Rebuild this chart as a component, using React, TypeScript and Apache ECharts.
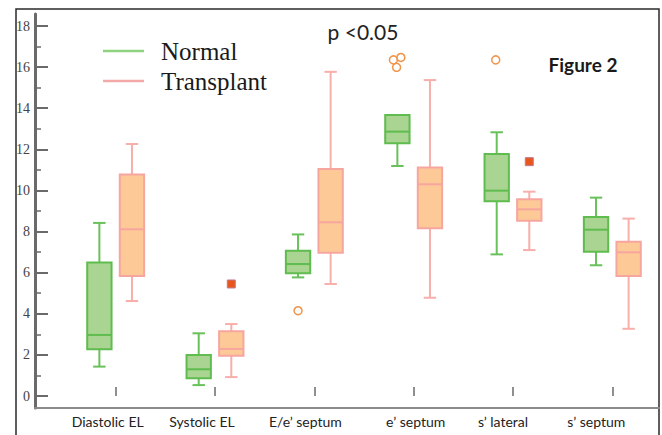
import { useEffect, useRef } from "react";
import * as echarts from "echarts";

// Echocardiographic indices, Normal vs Transplant
const CATEGORIES = ["Diastolic EL", "Systolic EL", "E/e’ septum", "e’ septum", "s’ lateral", "s’ septum"];

// Box statistics per category: [min, Q1, median, Q3, max]
const NORMAL_STATS = [
  [1.43, 2.27, 2.97, 6.5, 8.42],
  [0.53, 0.86, 1.3, 1.99, 3.05],
  [5.77, 5.97, 6.42, 7.07, 7.86],
  [11.19, 12.29, 12.86, 13.67, 13.67],
  [6.89, 9.48, 9.99, 11.77, 12.83],
  [6.36, 7.02, 8.09, 8.71, 9.65],
];
const TRANSPLANT_STATS = [
  [4.62, 5.84, 8.11, 10.78, 12.26],
  [0.92, 1.96, 2.29, 3.15, 3.5],
  [5.45, 6.97, 8.45, 11.04, 15.77],
  [4.78, 8.16, 10.3, 11.12, 15.37],
  [7.1, 8.53, 9.08, 9.57, 9.94],
  [3.27, 5.84, 6.99, 7.51, 8.63],
];

// Outliers: [category index, value, horizontal spread (fraction of a category band)]
const NORMAL_OUTLIERS = [
  [2, 4.15, 0],
  [3, 16.35, -0.04],
  [3, 16.47, 0.035],
  [3, 15.99, -0.008],
  [4, 16.35, -0.01],
];
const TRANSPLANT_OUTLIERS = [
  [1, 5.45, 0],
  [4, 11.4, 0],
];

const Y_MIN = 0;
const Y_MAX = 18;
const Y_STEP = 2;

// Layout of the paired boxes inside one category band (fractions of the band)
const PAIR_OFFSET = 0.164;
const BOX_WIDTH = 0.245;
const CAP_WIDTH = 0.125;

// Horizontal nudge of each category label, in px
const LABEL_NUDGE = [-8, -13, -9, 2, -10, -16];

const GREEN = { fill: "#aad491", stroke: "#5fbc4f", whisker: "#68c15a", legend: "#8fd27f" };
const PINK = { fill: "#fdca97", stroke: "#f6a59f", whisker: "#f8aeaa", legend: "#f3a9a8" };

const AXIS_GREY = "#6a6a6a";

function boxRenderer(side: number, c: typeof GREEN) {
  return (_params: any, api: any) => {
    const idx = api.value(0);
    const band = api.size([1, 0])[0];
    const cx = api.coord([idx, 0])[0] + side * band * PAIR_OFFSET;
    const half = (band * BOX_WIDTH) / 2;
    const cap = (band * CAP_WIDTH) / 2;
    const y = (d: number) => api.coord([idx, api.value(d)])[1];
    const yMin = y(1);
    const yQ1 = y(2);
    const yMed = y(3);
    const yQ3 = y(4);
    const yMax = y(5);
    const wStyle = { stroke: c.whisker, lineWidth: 2 };
    return {
      type: "group",
      children: [
        { type: "line", shape: { x1: cx, y1: yQ3, x2: cx, y2: yMax }, style: wStyle },
        { type: "line", shape: { x1: cx, y1: yQ1, x2: cx, y2: yMin }, style: wStyle },
        { type: "line", shape: { x1: cx - cap, y1: yMax, x2: cx + cap, y2: yMax }, style: wStyle },
        { type: "line", shape: { x1: cx - cap, y1: yMin, x2: cx + cap, y2: yMin }, style: wStyle },
        {
          type: "rect",
          shape: { x: cx - half, y: yQ3, width: half * 2, height: yQ1 - yQ3 },
          style: { fill: c.fill, stroke: c.stroke, lineWidth: 2 },
        },
        {
          type: "line",
          shape: { x1: cx - half, y1: yMed, x2: cx + half, y2: yMed },
          style: { stroke: c.stroke, lineWidth: 2 },
        },
      ],
    };
  };
}

function outlierRenderer(side: number, shape: "circle" | "square") {
  return (_params: any, api: any) => {
    const idx = api.value(0);
    const band = api.size([1, 0])[0];
    const [px, py] = api.coord([idx, api.value(1)]);
    const cx = px + side * band * PAIR_OFFSET + api.value(2) * band;
    if (shape === "circle") {
      return {
        type: "circle",
        shape: { cx, cy: py, r: 4 },
        style: { fill: "rgba(255,255,255,0)", stroke: "#f0944a", lineWidth: 1.5 },
      };
    }
    return {
      type: "rect",
      shape: { x: cx - 4, y: py - 4, width: 8, height: 8 },
      style: { fill: "#e8561c", stroke: "#c07a95", lineWidth: 1 },
    };
  };
}

function buildOption() {
  const rich: Record<string, any> = {};
  LABEL_NUDGE.forEach((n, i) => {
    rich["n" + i] = {
      fontFamily: "Lato",
      fontSize: 14,
      color: "#222",
      padding: n < 0 ? [0, -2 * n, 0, 0] : [0, 0, 0, 2 * n],
    };
  });

  return {
    animation: false,
    backgroundColor: "#ffffff",
    grid: [
      { left: 35, right: 3, top: 14, bottom: 27 },
      { left: 66, width: 612, top: 26, bottom: 39 },
    ],
    legend: {
      orient: "vertical",
      left: 103,
      top: 36,
      padding: 0,
      itemGap: 0,
      itemWidth: 41,
      itemHeight: 2.5,
      icon: "rect",
      textStyle: {
        fontFamily: "Liberation Serif",
        fontSize: 25,
        color: "#1a1a1a",
        lineHeight: 30,
        padding: [0, 0, 0, 12],
      },
      data: [
        { name: "Normal", itemStyle: { color: GREEN.legend, borderWidth: 0 } },
        { name: "Transplant", itemStyle: { color: PINK.legend, borderWidth: 0 } },
      ],
    },
    xAxis: [
      {
        gridIndex: 0,
        type: "value",
        min: 0,
        max: 1,
        axisLine: { show: true, onZero: false, lineStyle: { color: "#8a8a8a", width: 2 } },
        axisTick: { show: false },
        axisLabel: { show: false },
        splitLine: { show: false },
      },
      {
        gridIndex: 1,
        type: "category",
        data: CATEGORIES,
        offset: 12,
        axisLine: { show: false },
        axisTick: { show: true, inside: true, alignWithLabel: true, length: 9, lineStyle: { color: AXIS_GREY, width: 1.5 } },
        axisLabel: {
          margin: 6,
          interval: 0,
          formatter: (v: string, i: number) => `{n${i}|${v}}`,
          rich,
        },
        splitLine: { show: false },
      },
    ],
    yAxis: [
      {
        gridIndex: 0,
        type: "value",
        min: 0,
        max: 1,
        axisLine: { show: true, onZero: false, lineStyle: { color: AXIS_GREY, width: 3 } },
        axisTick: { show: false },
        axisLabel: { show: false },
        splitLine: { show: false },
      },
      {
        gridIndex: 1,
        type: "value",
        min: Y_MIN,
        max: Y_MAX,
        interval: Y_STEP,
        offset: 31,
        axisLine: { show: false },
        axisTick: { show: true, inside: true, length: 13, lineStyle: { color: AXIS_GREY, width: 2 } },
        minorTick: { show: true, splitNumber: 2, length: 6, lineStyle: { color: AXIS_GREY, width: 1.5 } },
        axisLabel: { margin: 5, fontFamily: "Liberation Serif", fontSize: 14, color: "#444" },
        splitLine: { show: false },
        minorSplitLine: { show: false },
      },
    ],
    graphic: [
      {
        type: "rect",
        shape: { x: 16, y: 9, width: 643, height: 440 },
        style: { fill: "none", stroke: "#2a2a2a", lineWidth: 1.5 },
        silent: true,
      },
      {
        type: "text",
        x: 363,
        y: 31,
        style: {
          text: "p <0.05",
          fontFamily: "Lato",
          fontSize: 21,
          fill: "#222",
          textAlign: "center",
          textVerticalAlign: "middle",
        },
      },
      {
        type: "text",
        x: 583,
        y: 64,
        style: {
          text: "Figure 2",
          fontFamily: "Lato",
          fontWeight: "bold",
          fontSize: 19,
          fill: "#1a1a1a",
          textAlign: "center",
          textVerticalAlign: "middle",
        },
      },
    ],
    series: [
      {
        name: "Normal",
        type: "custom",
        xAxisIndex: 1,
        yAxisIndex: 1,
        renderItem: boxRenderer(-1, GREEN),
        itemStyle: { color: GREEN.legend },
        encode: { x: 0, y: [1, 2, 3, 4, 5] },
        data: NORMAL_STATS.map((s, i) => [i, ...s]),
        z: 2,
      },
      {
        name: "Transplant",
        type: "custom",
        xAxisIndex: 1,
        yAxisIndex: 1,
        renderItem: boxRenderer(1, PINK),
        itemStyle: { color: PINK.legend },
        encode: { x: 0, y: [1, 2, 3, 4, 5] },
        data: TRANSPLANT_STATS.map((s, i) => [i, ...s]),
        z: 2,
      },
      {
        name: "Normal",
        type: "custom",
        xAxisIndex: 1,
        yAxisIndex: 1,
        renderItem: outlierRenderer(-1, "circle"),
        itemStyle: { color: GREEN.legend },
        encode: { x: 0, y: 1 },
        data: NORMAL_OUTLIERS,
        z: 3,
      },
      {
        name: "Transplant",
        type: "custom",
        xAxisIndex: 1,
        yAxisIndex: 1,
        renderItem: outlierRenderer(1, "square"),
        itemStyle: { color: PINK.legend },
        encode: { x: 0, y: 1 },
        data: TRANSPLANT_OUTLIERS,
        z: 3,
      },
    ],
  };
}

export default function App() {
  const ref = useRef<HTMLDivElement>(null);

  useEffect(() => {
    if (!ref.current) return;
    const chart = echarts.init(ref.current, undefined, { renderer: "svg" });
    chart.setOption(buildOption() as any);
    return () => chart.dispose();
  }, []);

  return (
    <div
      ref={ref}
      style={{ position: "fixed", left: 0, top: 0, width: 662, height: 435, background: "#fff" }}
    />
  );
}
